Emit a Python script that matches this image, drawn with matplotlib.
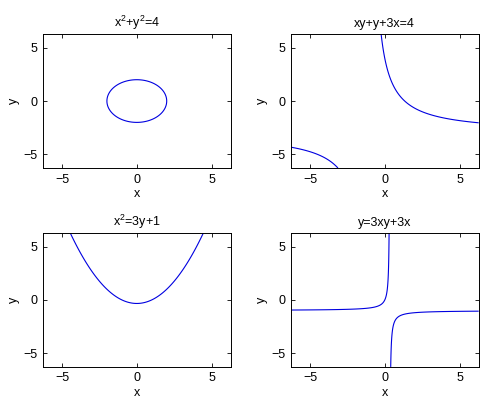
import numpy as np
import matplotlib.pyplot as plt

# implicit equations f(x, y) = 0, as drawn by ezplot on [-2pi, 2pi]
titles = ["x$^2$+y$^2$=4", "xy+y+3x=4", "x$^2$=3y+1", "y=3xy+3x"]
equations = [
    lambda x, y: x**2 + y**2 - 4,
    lambda x, y: x * y + y + 3 * x - 4,
    lambda x, y: x**2 - 3 * y - 1,
    lambda x, y: y - 3 * x * y - 3 * x,
]
lim = 2 * np.pi
ticks = [-5, 0, 5]

plt.rcParams["font.family"] = ["Liberation Sans", "DejaVu Sans"]
plt.rcParams["font.size"] = 9
plt.rcParams["mathtext.fontset"] = "custom"
plt.rcParams["mathtext.rm"] = "Liberation Sans"

fig = plt.figure(figsize=(4.93, 4.05), dpi=100)
lefts = [0.087, 0.590]
bottoms = [0.585, 0.094]
w, h = 0.381, 0.331

g = np.linspace(-lim, lim, 800)
X, Y = np.meshgrid(g, g)

for k, (title, f) in enumerate(zip(titles, equations)):
    ax = fig.add_axes([lefts[k % 2], bottoms[k // 2], w, h])
    ax.contour(X, Y, f(X, Y), levels=[0], colors="#0000e0", linewidths=0.8)
    ax.set_xlim(-lim, lim)
    ax.set_ylim(-lim, lim)
    ax.set_xticks(ticks)
    ax.set_yticks(ticks)
    ax.tick_params(direction="in", length=3, top=True, right=True, width=0.6, pad=4)
    for s in ax.spines.values():
        s.set_linewidth(0.7)
    ax.set_title(title, fontsize=9, pad=5)
    ax.set_xlabel("x", labelpad=2)
    ax.set_ylabel("y", labelpad=2)

fig.savefig("out.png", dpi=100)
